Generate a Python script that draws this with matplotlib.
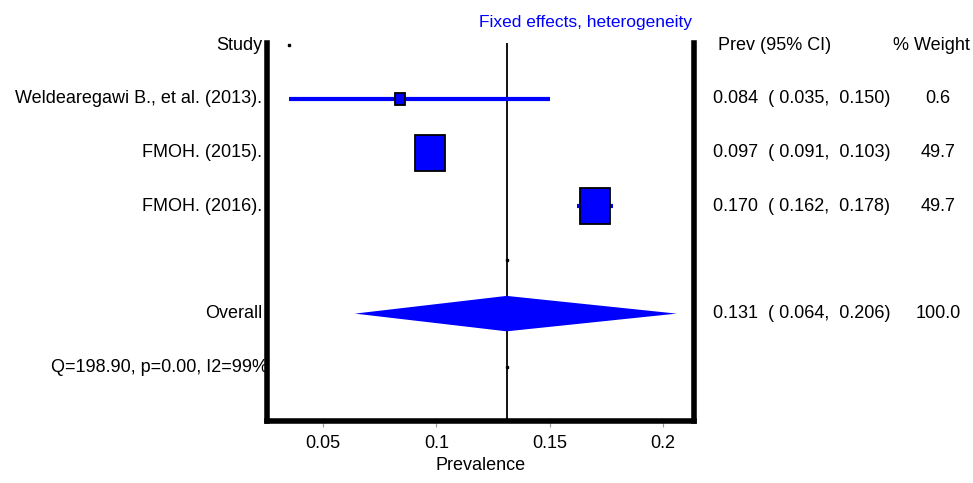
import numpy as np
import matplotlib.pyplot as plt
from matplotlib.patches import Rectangle, Polygon

# study data
studies = ['Weldearegawi B., et al. (2013).', 'FMOH. (2015).', 'FMOH. (2016).']
prev = [0.084, 0.097, 0.170]
lo = [0.035, 0.091, 0.162]
hi = [0.150, 0.103, 0.178]
weight = [0.6, 49.7, 49.7]

overall = 0.131
overall_lo = 0.064
overall_hi = 0.206
het_text = 'Q=198.90, p=0.00, I2=99%'

xticks = [0.05, 0.1, 0.15, 0.2]
xtick_labels = ['0.05', '0.1', '0.15', '0.2']

plt.rcParams['font.family'] = ['Liberation Sans Narrow', 'Liberation Sans', 'DejaVu Sans']
fs = 13

fig = plt.figure(figsize=(9.73, 4.83), dpi=100)
ax = fig.add_axes([267/973, 1 - 421/483, (694 - 267)/973, (421 - 43)/483])
ax.set_xlim(0.0252, 0.2137)
ax.set_ylim(7, -0.04)

blue = '#0000ff'
rows = np.arange(1, len(studies) + 1)

# pooled estimate line
ax.axvline(overall, color='black', lw=1.3, zorder=1)

# CI lines and boxes
wmax = max(weight)
for r, p, l, h, w in zip(rows, prev, lo, hi, weight):
    ax.plot([l, h], [r, r], color=blue, lw=3, solid_capstyle='butt', zorder=2)
    s = max(0.33, np.sqrt(w / wmax))
    bw = 0.0133 * s
    bh = 0.67 * s
    ax.add_patch(Rectangle((p - bw/2, r - bh/2), bw, bh, facecolor=blue,
                           edgecolor='black', lw=1.3, zorder=3))

# overall diamond
yo = 5
ax.add_patch(Polygon([[overall_lo, yo], [overall, yo - 0.33], [overall_hi, yo],
                      [overall, yo + 0.33]], closed=True, facecolor=blue,
                     edgecolor='none', zorder=2))

# small markers
ax.plot([lo[0]], [0], marker='s', ms=2, color='black')
ax.plot([overall, overall], [4, 6], ls='none', marker='s', ms=2, color='black')

# spines
for side in ['left', 'right', 'bottom']:
    ax.spines[side].set_linewidth(4)
ax.spines['top'].set_visible(False)
ax.set_yticks([])
ax.set_xticks(xticks)
ax.set_xticklabels(xtick_labels, fontsize=fs)
ax.tick_params(axis='x', length=4, width=0.8, color='#999999', pad=6)
ax.set_xlabel('Prevalence', fontsize=fs, labelpad=4)

# left labels
trans = ax.get_yaxis_transform()
ax.text(-0.012, 0, 'Study', transform=trans, ha='right', va='center', fontsize=fs)
for r, s in zip(rows, studies):
    ax.text(-0.012, r, s, transform=trans, ha='right', va='center', fontsize=fs)
ax.text(-0.012, yo, 'Overall', transform=trans, ha='right', va='center', fontsize=fs)
ax.text(0.002, 6, het_text, transform=trans, ha='right', va='center', fontsize=fs)

# right columns
ax.text(1.056, 0, 'Prev (95% CI)', transform=trans, ha='left', va='center', fontsize=fs)
ax.text(1.557, 0, '% Weight', transform=trans, ha='center', va='center', fontsize=fs)
for r, p, l, h, w in zip(rows, prev, lo, hi, weight):
    ax.text(1.044, r, '%.3f  ( %.3f,  %.3f)' % (p, l, h), transform=trans,
            ha='left', va='center', fontsize=fs)
    ax.text(1.571, r, '%.1f' % w, transform=trans, ha='center', va='center', fontsize=fs)
ax.text(1.044, yo, '%.3f  ( %.3f,  %.3f)' % (overall, overall_lo, overall_hi),
        transform=trans, ha='left', va='center', fontsize=fs)
ax.text(1.571, yo, '100.0', transform=trans, ha='center', va='center', fontsize=fs)

fig.text(692/973, 1 - 22/483, 'Fixed effects, heterogeneity', color=blue,
         ha='right', va='center', fontsize=12.5)

fig.savefig('out.png', dpi=100)
